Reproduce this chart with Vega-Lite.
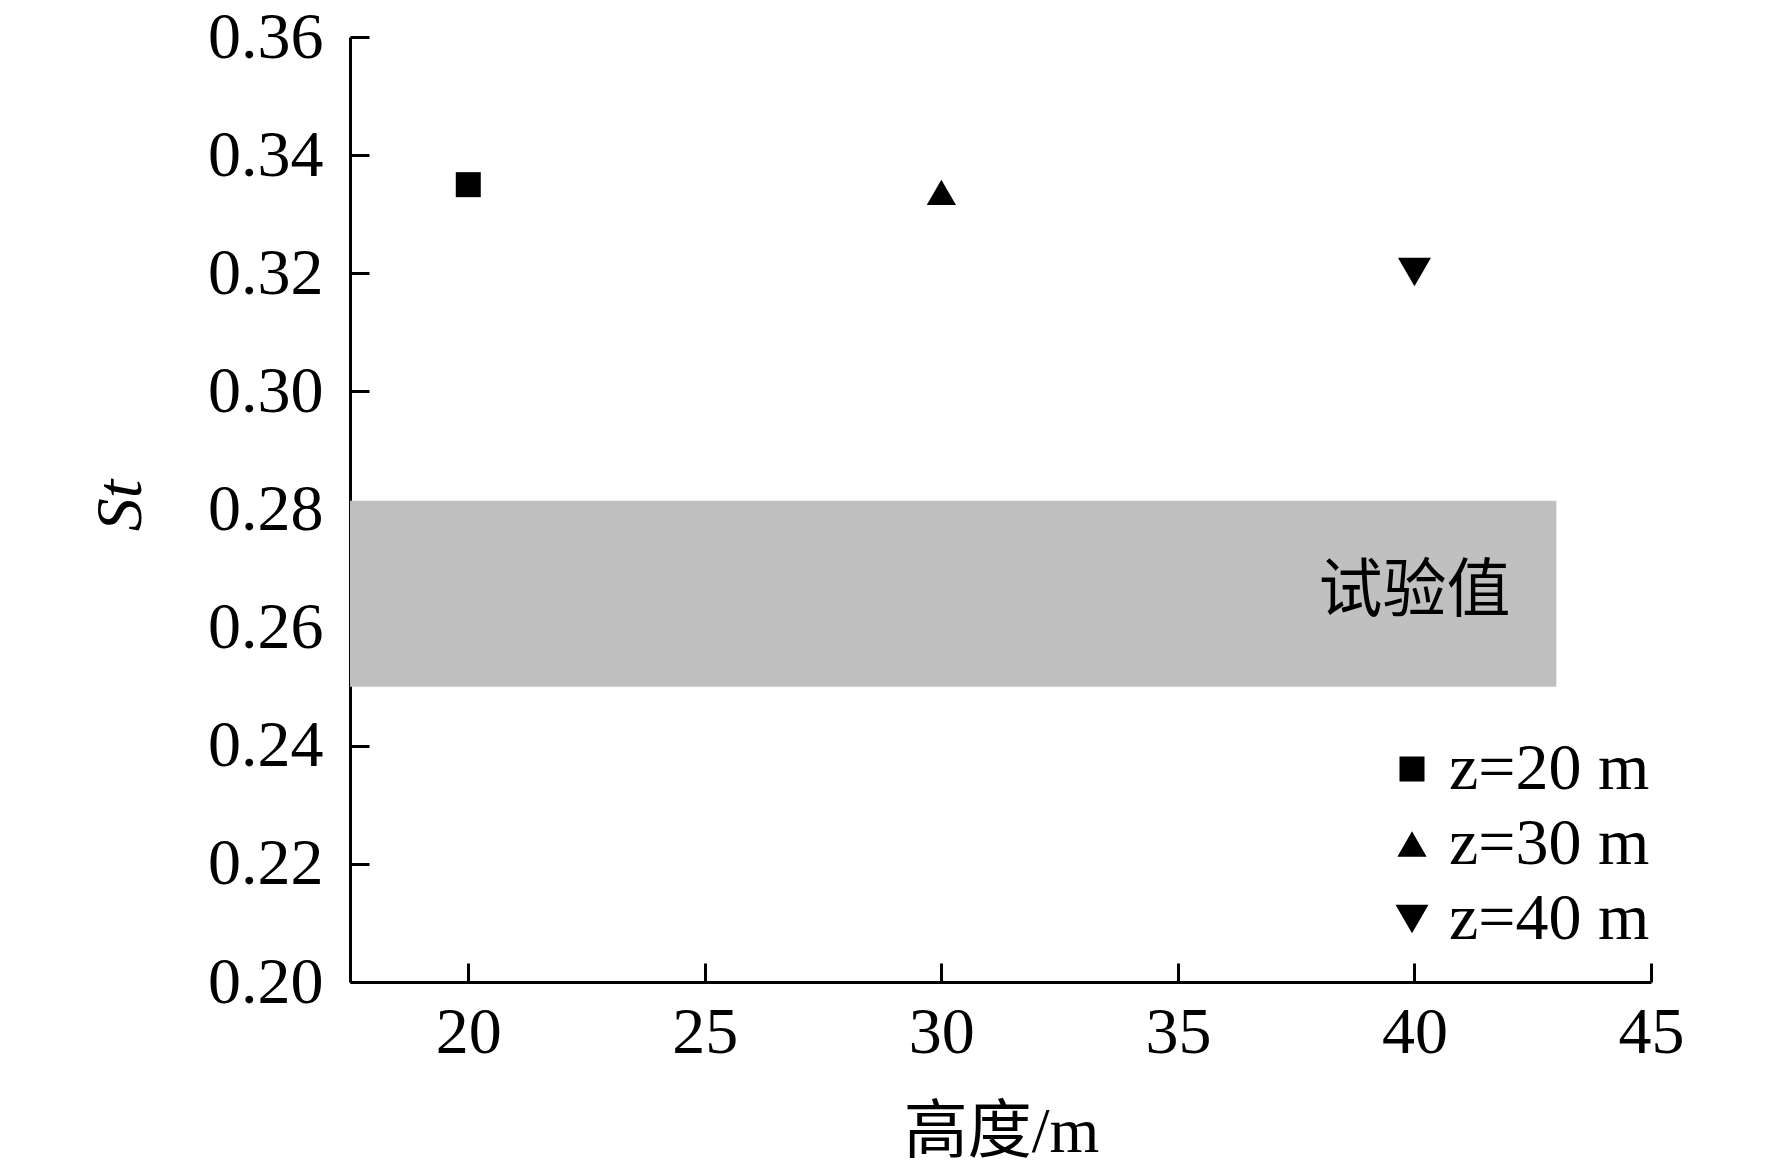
{
  "$schema": "https://vega.github.io/schema/vega-lite/v6.json",
  "width": 1301,
  "height": 945,
  "autosize": {"type": "none"},
  "padding": {"left": 350, "top": 37, "right": 121, "bottom": 193},
  "background": "white",
  "config": {
    "view": {"stroke": null},
    "axis": {
      "domainColor": "black",
      "domainWidth": 3,
      "tickColor": "black",
      "tickWidth": 3,
      "tickSize": -19,
      "grid": false,
      "labelFlush": false,
      "labelFont": "Liberation Serif",
      "labelFontSize": 66,
      "labelColor": "black",
      "titleColor": "black",
      "titleFontWeight": "normal"
    },
    "legend": {
      "labelFont": "Liberation Serif",
      "labelFontSize": 66,
      "labelColor": "black",
      "labelLimit": 500
    }
  },
  "datasets": {
    "band": [{"x1": 17.5, "x2": 43, "y1": 0.25, "y2": 0.2815, "label": "试验值", "tx": 40, "ty": 0.266}],
    "pts": [
      {"height": 20, "st": 0.335, "series": "z=20 m"},
      {"height": 30, "st": 0.3337, "series": "z=30 m"},
      {"height": 40, "st": 0.3202, "series": "z=40 m"}
    ]
  },
  "layer": [
    {
      "data": {"name": "band"},
      "mark": {"type": "rect", "color": "#c0c0c0"},
      "encoding": {
        "x": {"field": "x1", "type": "quantitative", "scale": {"domain": [17.5, 45], "nice": false, "zero": false},
          "axis": {"values": [20, 25, 30, 35, 40, 45], "labelPadding": 37, "title": "高度/m",
            "titleFont": "Liberation Serif, Noto Sans CJK SC", "titleFontSize": 64,
            "titleX": 651, "titleY": 150, "titleBaseline": "middle", "titleAlign": "center"}},
        "x2": {"field": "x2"},
        "y": {"field": "y1", "type": "quantitative", "scale": {"domain": [0.2, 0.36], "nice": false, "zero": false},
          "axis": {"values": [0.2, 0.22, 0.24, 0.26, 0.28, 0.3, 0.32, 0.34, 0.36], "format": ".2f", "labelPadding": 46,
            "title": "St", "titleFont": "Liberation Serif", "titleFontStyle": "italic", "titleFontSize": 66,
            "titleX": -230, "titleY": 468, "titleBaseline": "middle", "titleAlign": "center", "titleAngle": -90}},
        "y2": {"field": "y2"}
      }
    },
    {
      "data": {"name": "band"},
      "mark": {"type": "text", "font": "Noto Sans CJK SC", "fontSize": 64, "color": "black", "align": "center", "baseline": "middle"},
      "encoding": {
        "x": {"field": "tx", "type": "quantitative"},
        "y": {"field": "ty", "type": "quantitative"},
        "text": {"field": "label"}
      }
    },
    {
      "data": {"name": "pts"},
      "mark": {"type": "point", "filled": true, "color": "black", "opacity": 1},
      "encoding": {
        "x": {"field": "height", "type": "quantitative"},
        "y": {"field": "st", "type": "quantitative"},
        "shape": {"field": "series", "type": "nominal",
          "scale": {"domain": ["z=20 m", "z=30 m", "z=40 m"], "range": ["square", "triangle-up", "triangle-down"]},
          "legend": {"orient": "none", "legendX": 1029, "legendY": 699, "title": null, "padding": 0, "rowPadding": 9, "labelOffset": 4,
            "symbolFillColor": "black", "symbolStrokeWidth": 0, "symbolOpacity": 1}},
        "size": {"field": "series", "type": "nominal",
          "scale": {"domain": ["z=20 m", "z=30 m", "z=40 m"], "range": [625, 1089, 1089]},
          "legend": {"orient": "none", "legendX": 1029, "legendY": 699, "title": null, "padding": 0, "rowPadding": 9, "labelOffset": 4,
            "symbolFillColor": "black", "symbolStrokeWidth": 0, "symbolOpacity": 1}}
      }
    }
  ]
}
